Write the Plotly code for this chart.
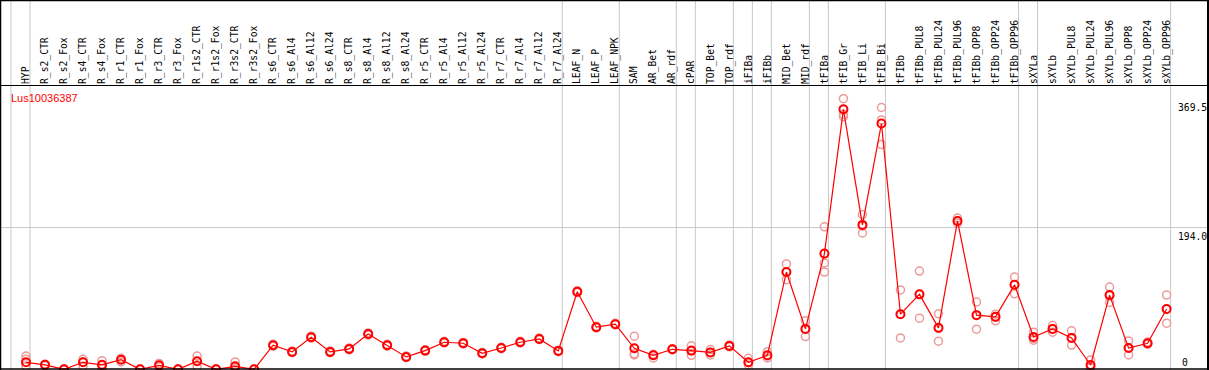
import plotly.graph_objects as go

categories = ["HYP", "R_s2_CTR", "R_s2_Fox", "R_s4_CTR", "R_s4_Fox", "R_r1_CTR", "R_r1_Fox",
              "R_r3_CTR", "R_r3_Fox", "R_r1s2_CTR", "R_r1s2_Fox", "R_r3s2_CTR", "R_r3s2_Fox",
              "R_s6_CTR", "R_s6_Al4", "R_s6_Al12", "R_s6_Al24", "R_s8_CTR", "R_s8_Al4", "R_s8_Al12",
              "R_s8_Al24", "R_r5_CTR", "R_r5_Al4", "R_r5_Al12", "R_r5_Al24", "R_r7_CTR", "R_r7_Al4",
              "R_r7_Al12", "R_r7_Al24", "LEAF_N", "LEAF_P", "LEAF_NPK", "SAM", "AR_Bet", "AR_rdf",
              "cPAR", "TOP_Bet", "TOP_rdf", "iFIBa", "iFIBb", "MID_Bet", "MID_rdf", "tFIBa",
              "tFIB_Gr", "tFIB_Li", "tFIB_Bi", "tFIBb", "tFIBb_PUL8", "tFIBb_PUL24", "tFIBb_PUL96",
              "tFIBb_OPP8", "tFIBb_OPP24", "tFIBb_OPP96", "sXYLa", "sXYLb", "sXYLb_PUL8",
              "sXYLb_PUL24", "sXYLb_PUL96", "sXYLb_OPP8", "sXYLb_OPP24", "sXYLb_OPP96"]

means = [10.5, 7, 1, 10.5, 7, 14, 1, 6.4, 1, 12, 1, 5, 1,
         33.7, 24.6, 44.6, 24.6, 28.7, 49, 33.7, 17.8, 26.4, 37.8, 36.4, 22.8, 30, 37.8, 42.3, 26,
         106.6, 58.3, 62.4, 29.6, 20, 28.2, 26.4, 24, 32.8, 10.5, 20, 133.4, 56, 158.5,
         355, 197.6, 335.6, 76, 103, 57.4, 203, 74.7, 72.4, 116, 45, 56, 43.7, 6.8, 102, 30, 36.4, 83]

replicates = [
    [19, 14.5, 5], [8, 7, 6], [1.5, 1, 0.5], [14.5, 11, 5], [12.7, 6, 2], [16, 14, 11], [1, 1, 1],
    [9, 6, 4], [1, 1, 1], [19, 12, 4.5], [1, 1, 1], [11, 3, 1], [1, 1, 1],
    [35, 33.5, 32.5], [26, 24.5, 23.5], [46, 44.5, 43.5], [26, 24.5, 23.5], [30, 28.5, 27.5],
    [50.5, 49, 47.5], [35, 33.5, 32.5], [19, 17.5, 17], [27.5, 26.5, 25.5], [39, 37.5, 37],
    [37.5, 36.5, 35.5], [24, 22.5, 22], [31, 30, 29], [39, 37.5, 37], [43.5, 42, 41.5], [27, 26, 25],
    [108, 106.5, 105.5], [59.5, 58, 57.5], [63.5, 62.5, 61.5], [46, 22, 20.5], [16.4, 21.4, 20],
    [28, 29, 27.5], [33, 20, 26], [27.8, 20.5, 24], [34, 33, 31.5], [16, 10, 6.8], [25, 16.4, 19],
    [144.4, 123, 133], [67, 45.5, 56], [195, 145.7, 133.4], [369.5, 348, 345], [211.7, 186.7, 196],
    [357.5, 340.6, 307], [109, 43.7, 76], [134.8, 70.6, 103], [76.5, 39.2, 57], [207, 203, 200],
    [92.5, 55.6, 75], [76, 67, 72], [126.6, 103.8, 116], [51.5, 40.5, 43], [60.5, 51.5, 56],
    [53.3, 34, 44], [13.7, 4, 3], [113, 92, 101], [39.6, 20.5, 30], [38, 36, 35], [102, 63.8, 83]]

# indices of the last category in each sample group (group separators)
group_ends = [-1, 0, 28, 31, 34, 35, 37, 38, 39, 41, 42, 45, 52, 53, 60]

gene_id = "Lus10036387"
y_labels = [(369.5, "369.5"), (194.0, "194.0"), (0, "0")]

W, H = 1209, 370
TOP = 85
PH = H - TOP

def px_x(p):
    return p / W

def px_y(p):
    return (H - p) / PH

x_idx = list(range(len(categories)))

rep_x, rep_y = [], []
for i, reps in enumerate(replicates):
    for r in reps:
        rep_x.append(i)
        rep_y.append(r)

fig = go.Figure()

fig.add_trace(go.Scatter(
    x=rep_x, y=rep_y, mode="markers",
    marker=dict(symbol="circle-open", size=8, color="#ec9a9a", line=dict(width=1.5)),
    hoverinfo="skip", showlegend=False))

fig.add_trace(go.Scatter(
    x=x_idx, y=means, mode="lines+markers",
    line=dict(color="#ff0000", width=1.2),
    marker=dict(symbol="circle-open", size=8, color="#ff0000", line=dict(width=2)),
    showlegend=False))

shapes = []
grey = "#c8c8c8"
for k in group_ends:
    shapes.append(dict(type="line", xref="x", yref="paper", x0=k + 0.21, x1=k + 0.21,
                       y0=0, y1=px_y(0), line=dict(color=grey, width=1), layer="below"))
shapes.append(dict(type="line", xref="paper", yref="y", x0=0, x1=1, y0=194.0, y1=194.0,
                   line=dict(color=grey, width=1), layer="below"))
blk = "#000000"
shapes += [
    dict(type="line", xref="paper", yref="paper", x0=0, x1=1, y0=px_y(0.5), y1=px_y(0.5), line=dict(color=blk, width=1.5)),
    dict(type="line", xref="paper", yref="paper", x0=0, x1=1, y0=px_y(85.5), y1=px_y(85.5), line=dict(color=blk, width=1.2)),
    dict(type="line", xref="paper", yref="paper", x0=0, x1=1, y0=px_y(369), y1=px_y(369), line=dict(color=blk, width=1.5)),
    dict(type="line", xref="paper", yref="paper", x0=px_x(0.5), x1=px_x(0.5), y0=0, y1=px_y(0), line=dict(color=blk, width=1.5)),
    dict(type="line", xref="paper", yref="paper", x0=px_x(1208), x1=px_x(1208), y0=0, y1=px_y(0), line=dict(color=blk, width=2)),
]

annotations = [dict(text=gene_id, xref="paper", yref="paper", x=px_x(9), y=px_y(97.5),
                    xanchor="left", yanchor="middle", showarrow=False,
                    font=dict(family="Liberation Sans", size=11, color="#ff0000"))]
for val, txt in y_labels:
    if val == 0:
        annotations.append(dict(text=txt, xref="paper", yref="y", x=px_x(1185), y=val,
                                xanchor="center", yanchor="middle", yshift=8, showarrow=False,
                                font=dict(family="DejaVu Sans Mono", size=9.7, color="#000000")))
    else:
        annotations.append(dict(text=txt, xref="paper", yref="y", x=1, y=val,
                                xanchor="right", yanchor="top", yshift=-1, showarrow=False,
                                font=dict(family="DejaVu Sans Mono", size=9.7, color="#000000")))

fig.update_layout(
    template="none",
    width=W, height=H, autosize=False,
    margin=dict(l=0, r=0, t=TOP, b=0, pad=0),
    paper_bgcolor="white", plot_bgcolor="white",
    showlegend=False,
    xaxis=dict(range=[-26 / 19.01, (W - 26) / 19.01], side="top",
               tickmode="array", tickvals=x_idx, ticktext=categories, tickangle=-90,
               ticks="", showgrid=False, zeroline=False, showline=False, automargin=False,
               tickfont=dict(family="DejaVu Sans Mono", size=9.7, color="#000000")),
    yaxis=dict(range=[0, PH / 0.7343], showgrid=False, zeroline=False, showline=False,
               showticklabels=False, ticks="", automargin=False),
    shapes=shapes, annotations=annotations,
)

fig.write_html("out.html", config={"displayModeBar": False},
               post_script="document.body.style.margin='0';document.body.style.overflow='hidden';")
